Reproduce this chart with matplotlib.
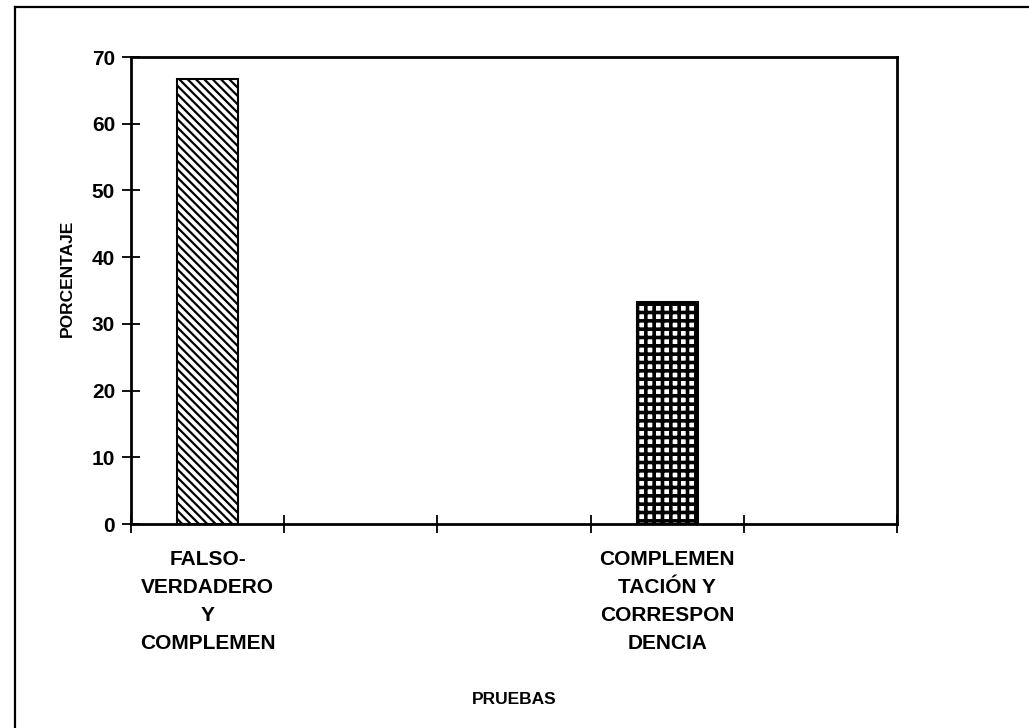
import matplotlib
matplotlib.use("Agg")
import matplotlib.pyplot as plt
from matplotlib.lines import Line2D

plt.rcParams["font.family"] = ["Liberation Sans", "DejaVu Sans"]
plt.rcParams["hatch.color"] = "black"
plt.rcParams["hatch.linewidth"] = 1.6

# five category slots on the axis, only two of them carry a test
categories = ["FALSO-\nVERDADERO\nY\nCOMPLEMEN", "", "",
              "COMPLEMEN\nTACIÓN Y\nCORRESPON\nDENCIA", ""]
porcentaje = [66.7, None, None, 33.3, None]
hatches = ["\\\\\\\\", None, None, "++", None]
y_ticks = [0, 10, 20, 30, 40, 50, 60, 70]

fig = plt.figure(figsize=(10.29, 7.28), dpi=100)
ax = fig.add_axes([0.1273, 0.2802, 0.7444, 0.6415])

for i, (v, h) in enumerate(zip(porcentaje, hatches)):
    if v is None:
        continue
    b = ax.bar(i, v, width=0.4, color="white", edgecolor="black",
               linewidth=1.5, hatch=h)[0]
    if h == "++" and hasattr(b, "set_hatch_linewidth"):
        b.set_hatch_linewidth(2.6)

ax.set_xlim(-0.5, len(categories) - 0.5)
ax.set_ylim(0, 70)
ax.set_yticks(y_ticks)
ax.set_yticklabels([str(t) for t in y_ticks], fontsize=15, fontweight="bold")

# tick marks sit between categories, labels at category centres
ax.set_xticks([i - 0.5 for i in range(len(categories) + 1)])
ax.set_xticklabels([])
ax.set_xticks(range(len(categories)), minor=True)
ax.set_xticklabels(categories, minor=True, fontsize=15, fontweight="bold",
                   linespacing=1.6)
ax.tick_params(axis="x", which="minor", length=0, pad=19)
ax.tick_params(axis="both", which="major", direction="inout", length=13,
               width=1.3, pad=5)

for s in ax.spines.values():
    s.set_linewidth(2)

ax.set_ylabel("PORCENTAJE", fontsize=12.5, fontweight="bold")
ax.yaxis.set_label_coords(-0.073, 0.525)
ax.set_xlabel("PRUEBAS", fontsize=12.5, fontweight="bold")
ax.xaxis.set_label_coords(0.5, -0.36)

# border around the chart object
fig.add_artist(Line2D([15 / 1029, 1.0], [1 - 7 / 728, 1 - 7 / 728],
                      transform=fig.transFigure, color="black", lw=1.6))
fig.add_artist(Line2D([15 / 1029, 15 / 1029], [0.0, 1 - 7 / 728],
                      transform=fig.transFigure, color="black", lw=1.6))

fig.savefig("out.png", dpi=100)
